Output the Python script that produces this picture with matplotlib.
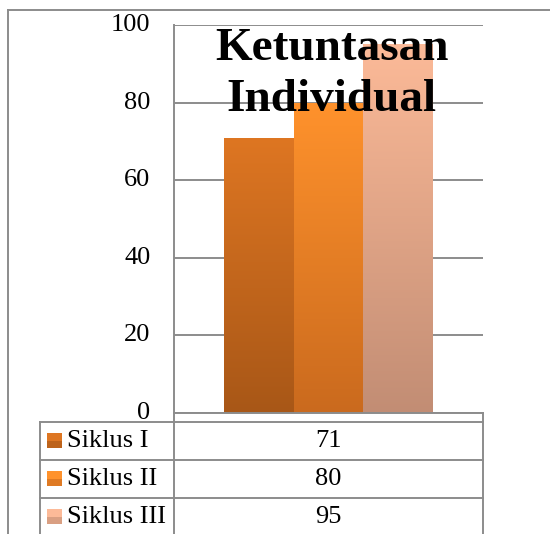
import numpy as np
import matplotlib
matplotlib.use('Agg')
import matplotlib.pyplot as plt
from matplotlib.colors import LinearSegmentedColormap
from matplotlib.lines import Line2D
from matplotlib.patches import Rectangle

# data
series = ['Siklus I', 'Siklus II', 'Siklus III']
values = [71, 80, 95]
title = 'Ketuntasan\nIndividual'
yticks = [0, 20, 40, 60, 80, 100]
top_colors = ['#DE7622', '#FF922C', '#FCBA98']
bottom_colors = ['#A85717', '#CA6A1E', '#C28D74']

W, H = 550, 534
plt.rcParams['font.family'] = ['Liberation Serif', 'DejaVu Serif']
fig = plt.figure(figsize=(W / 100, H / 100), dpi=100)

def fx(x):
    return x / W

def fy(y):
    return 1 - y / H

grid_col = '#8c8c8c'
lw = 1.4

# plot area
left, right, top, bottom = 174, 483, 25, 413
ax = fig.add_axes([fx(left), fy(bottom), fx(right) - fx(left), fy(top) - fy(bottom)])
ax.set_xlim(-0.5, 0.5)
ax.set_ylim(0, 100)
for s in ['top', 'right', 'bottom']:
    ax.spines[s].set_visible(False)
ax.spines['left'].set_color(grid_col)
ax.spines['left'].set_linewidth(lw)
ax.set_xticks([])
ax.set_yticks(yticks)
ax.tick_params(axis='y', length=0, pad=17, labelsize=19)
for t in ax.get_yticklabels():
    t.set_verticalalignment('center')
for y in yticks:
    ax.axhline(y, color=grid_col, lw=lw, zorder=1)

w = 0.2245
xs = (np.arange(len(values)) - 1) * w
bars = ax.bar(xs, values, width=w, color='none', zorder=2)
grad = np.linspace(0, 1, 256).reshape(-1, 1)
for b, v, c0, c1 in zip(bars, values, bottom_colors, top_colors):
    cmap = LinearSegmentedColormap.from_list('g', [c0, c1])
    x0 = b.get_x()
    im = ax.imshow(grad, extent=[x0, x0 + w, 0, v], origin='lower', aspect='auto',
                   cmap=cmap, zorder=2)
    im.set_clip_path(b)
ax.set_xlim(-0.5, 0.5)
ax.set_ylim(0, 100)

ax.text(0.01, 99.3, title, ha='center', va='top', fontsize=34, fontweight='bold',
        linespacing=1.28, zorder=5)

# outer frame
fig.add_artist(Line2D([fx(8), 1], [fy(10), fy(10)], color=grid_col, lw=lw))
fig.add_artist(Line2D([fx(8), fx(8)], [fy(10), 0], color=grid_col, lw=lw))

# data table
row_lines = [422, 460, 498]
fig.add_artist(Line2D([fx(left), fx(right)], [fy(bottom), fy(bottom)], color=grid_col, lw=lw))
for y in row_lines:
    fig.add_artist(Line2D([fx(40), fx(right)], [fy(y), fy(y)], color=grid_col, lw=lw))
fig.add_artist(Line2D([fx(40), fx(40)], [fy(422), 0], color=grid_col, lw=lw))
fig.add_artist(Line2D([fx(left), fx(left)], [fy(bottom), 0], color=grid_col, lw=lw))
fig.add_artist(Line2D([fx(right), fx(right)], [fy(bottom), 0], color=grid_col, lw=lw))

for i, (name, v) in enumerate(zip(series, values)):
    yc = row_lines[i] + 19
    fig.add_artist(Rectangle((fx(47), fy(yc + 7)), fx(15), 15 / H,
                             facecolor=top_colors[i], edgecolor='none'))
    fig.add_artist(Rectangle((fx(47), fy(yc + 7)), fx(15), 7 / H,
                             facecolor=bottom_colors[i], edgecolor='none', alpha=0.6))
    fig.text(fx(67), fy(yc), name, ha='left', va='center', fontsize=19)
    fig.text(fx((left + right) / 2), fy(yc), str(v), ha='center', va='center', fontsize=19)

fig.savefig('out.png', dpi=100)
